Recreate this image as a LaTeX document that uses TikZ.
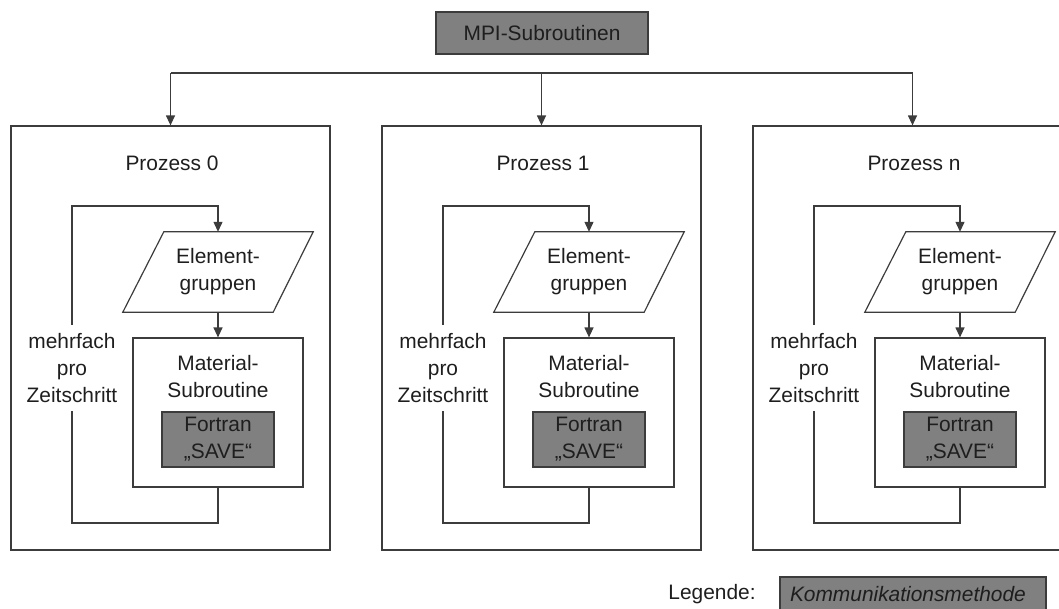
\documentclass[tikz,border=0pt]{standalone}
\usepackage{fontspec}
\setmainfont{Liberation Sans}
\usetikzlibrary{arrows.meta,calc}
\definecolor{linegray}{HTML}{3C3C3C}
\definecolor{fillgray}{HTML}{808080}
\definecolor{textgray}{HTML}{1E1E1E}

\begin{document}
\begin{tikzpicture}[x=1pt,y=-1pt,
  every node/.style={font=\fontsize{20.9}{27}\selectfont, text=textgray, align=center, inner sep=0pt},
  line/.style={draw=linegray, line width=1.2pt},
  arr/.style={line, -{Triangle[length=10pt,width=9pt]}},
  frame/.style={line, rectangle, minimum width=319pt, minimum height=424pt},
  pgram/.style={rectangle, minimum width=190pt, minimum height=80pt},
  matbox/.style={line, rectangle, minimum width=170pt, minimum height=149pt},
  commbox/.style={line, rectangle, fill=fillgray},
  savebox/.style={commbox, minimum width=112pt, minimum height=55pt},
  repeatlbl/.style={rectangle, minimum height=86pt},
]
\useasboundingbox (0,0) rectangle (1059,608);
\clip (0,0) rectangle (1059,608);

% communication layer on top
\node[commbox, minimum width=212pt, minimum height=42pt] (mpi) at (542,33) {MPI-Subroutinen};
\coordinate (bus) at (0,73);

% one column per process
\foreach \L/\t [count=\k] in {11/0, 382/1, 753/n} {
  \node[frame] (box\k) at (\L+159.5,338) {};
  \node (title\k) at (\L+161,163) {Prozess \t};
  \draw[arr] (box\k.north |- bus) -- (box\k.north);

  % input data (parallelogram)
  \node[pgram] (eg\k) at (\L+207,272) {Element-\\gruppen};
  \draw[line] ($(eg\k.north west)+(41,0)$) -- (eg\k.north east)
     -- ($(eg\k.south east)+(-40,0)$) -- (eg\k.south west) -- cycle;

  % material subroutine with Fortran SAVE block
  \node[matbox] (mat\k) at (\L+207,412.5) {};
  \node (matlbl\k) at (\L+207,376.5) {Material-\\Subroutine};
  \node[savebox] (save\k) at (\L+207,439.5) {Fortran\\„SAVE“};
  \draw[arr] (eg\k.south) -- (mat\k.north);

  % repetition loop
  \node[repeatlbl] (rep\k) at (\L+61,368) {mehrfach\\pro\\Zeitschritt};
  \coordinate (looptop\k) at (\L+61,206);
  \coordinate (loopbot\k) at (\L+61,523);
  \draw[arr] (rep\k.north) -- (looptop\k) -- (eg\k.north |- looptop\k) -- (eg\k.north);
  \draw[line] (mat\k.south) -- (mat\k.south |- loopbot\k) -- (loopbot\k) -- (rep\k.south);
}
\draw[line] (box1.north |- bus) -- (box3.north |- bus);

% legend
\node (legtitle) at (712,594) {Legende:};
\node[commbox, text width=246pt, align=left, inner xsep=10pt, minimum height=34pt,
      font=\fontsize{20.9}{27}\selectfont\itshape] (leg) at (913,594) {Kommunikationsmethode};
\end{tikzpicture}
\end{document}
